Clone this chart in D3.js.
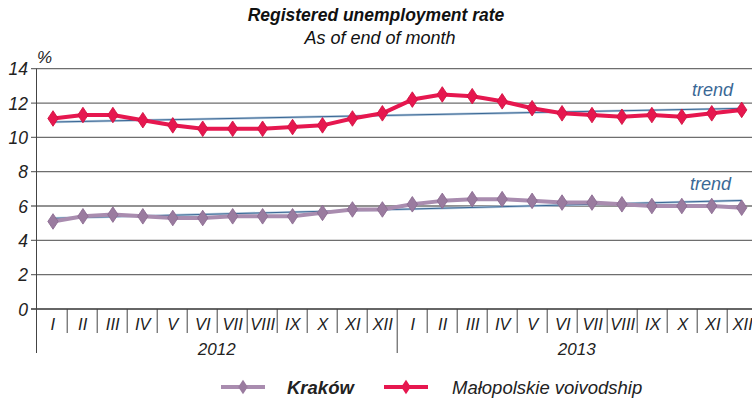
<!DOCTYPE html>
<html><head><meta charset="utf-8">
<script src="https://cdn.jsdelivr.net/npm/d3@7"></script>
<style>
html,body{margin:0;padding:0;background:#fff;}
svg text{font-family:"Liberation Sans",Arial,sans-serif;font-style:italic;}
</style></head>
<body>
<svg id="chart" width="752" height="401"></svg>
<script>
const months = ["I","II","III","IV","V","VI","VII","VIII","IX","X","XI","XII"];
const years = ["2012","2013"];
const yTicks = [0,2,4,6,8,10,12,14];
const krakow = [5.1,5.4,5.5,5.4,5.3,5.3,5.4,5.4,5.4,5.6,5.8,5.8,
                6.1,6.3,6.4,6.4,6.3,6.2,6.2,6.1,6.0,6.0,6.0,5.9];
const malopolska = [11.1,11.3,11.3,11.0,10.7,10.5,10.5,10.5,10.6,10.7,11.1,11.4,
                    12.2,12.5,12.4,12.1,11.7,11.4,11.3,11.2,11.3,11.2,11.4,11.6];
const seriesNames = ["Kraków","Małopolskie voivodship"];
const trendLabel = "trend";

const svg = d3.select("#chart");
const cats = [];
years.forEach(y => months.forEach(m => cats.push(y + "-" + m)));

const x = d3.scaleBand().domain(cats).range([36.7, 756.7]).padding(0);
const xp = d3.scalePoint().domain(cats).range([53, 741.7]);
const y = d3.scaleLinear().domain([0,14]).range([309, 68.7]);

const colMal = "#e6174f", colMalDark = "#d0103f";
const colKr = "#a98caf", colKrDark = "#9a7b9f";
const colTrend = "#3a6895";

// gridlines
svg.append("g").selectAll("line").data(yTicks).join("line")
  .attr("x1", 31).attr("x2", 752)
  .attr("y1", d => y(d)).attr("y2", d => y(d))
  .attr("stroke", d => d === 0 ? "#333" : "#6e6e6e").attr("stroke-width", 1.3);

// y axis line
svg.append("line").attr("x1", 36.5).attr("x2", 36.5).attr("y1", y(14)).attr("y2", 353)
  .attr("stroke", "#444").attr("stroke-width", 1);

// y tick labels
svg.append("g").selectAll("text").data(yTicks).join("text")
  .attr("x", 28).attr("y", d => y(d) + 6.5).attr("text-anchor", "end")
  .attr("font-size", 17.5).attr("fill", "#222").text(d => d);

svg.append("text").attr("x", 37).attr("y", 63).attr("font-size", 17).attr("fill", "#222").text("%");

// category separators
svg.append("g").selectAll("line").data(cats.slice(1)).join("line")
  .attr("x1", d => x(d) + 0.5).attr("x2", d => x(d) + 0.5)
  .attr("y1", y(0)).attr("y2", d => d.endsWith("-I") ? 353 : 333)
  .attr("stroke", "#444").attr("stroke-width", 1);

// month labels
svg.append("g").selectAll("text").data(cats).join("text")
  .attr("x", d => x(d) + x.bandwidth()/2 + 1).attr("y", 330)
  .attr("text-anchor", "middle").attr("font-size", 16.5).attr("fill", "#222")
  .text(d => d.split("-")[1]);

// year labels
svg.append("g").selectAll("text").data(years).join("text")
  .attr("x", yr => x(yr + "-I") + x.bandwidth()*6)
  .attr("y", 355).attr("text-anchor", "middle").attr("font-size", 17).attr("fill", "#222")
  .text(d => d);

// trend lines (least squares of each series)
function trend(vals){
  const n = vals.length, idx = d3.range(n);
  const mx = d3.mean(idx), my = d3.mean(vals);
  const b = d3.sum(idx, i => (i-mx)*(vals[i]-my)) / d3.sum(idx, i => (i-mx)*(i-mx));
  const a = my - b*mx;
  return [a, a + b*(n-1)];
}
[krakow, malopolska].forEach(vals => {
  const t = trend(vals);
  const pts = [[xp(cats[0]), y(t[0])], [xp(cats[cats.length-1]), y(t[1])]];
  svg.append("path").attr("d", d3.line()(pts)).attr("stroke", "#b4c8dc").attr("stroke-width", 2.4).attr("fill","none");
  svg.append("path").attr("d", d3.line()(pts)).attr("stroke", colTrend).attr("stroke-width", 1).attr("fill","none");
});

// series
const diamond = d3.symbol().type(d3.symbolDiamond).size(70);
function drawSeries(vals, col, mcol, stroke){
  const line = d3.line().x((d,i) => xp(cats[i])).y(d => y(d));
  svg.append("path").datum(vals).attr("d", line).attr("fill","none")
    .attr("stroke", col).attr("stroke-width", 4).attr("stroke-linejoin","round");
  svg.append("g").selectAll("path").data(vals).join("path")
    .attr("d", diamond)
    .attr("transform", (d,i) => `translate(${xp(cats[i])},${y(d)}) scale(1.15,1)`)
    .attr("fill", mcol).attr("stroke", stroke).attr("stroke-width", 0.8);
}
drawSeries(krakow, colKr, colKrDark, "#8a6a90");
drawSeries(malopolska, colMal, colMal, colMalDark);

// trend labels
svg.append("text").attr("x", 733).attr("y", 96).attr("text-anchor","end")
  .attr("font-size", 18).attr("fill", colTrend).text(trendLabel);
svg.append("text").attr("x", 731).attr("y", 190).attr("text-anchor","end")
  .attr("font-size", 18).attr("fill", colTrend).text(trendLabel);

// title
svg.append("text").attr("x", 376).attr("y", 21).attr("text-anchor","middle")
  .attr("font-size", 17.5).attr("font-weight","bold").attr("fill","#111")
  .text("Registered unemployment rate");
svg.append("text").attr("x", 380).attr("y", 43.5).attr("text-anchor","middle")
  .attr("font-size", 18).attr("fill","#111").text("As of end of month");

// legend
const leg = [
  {name: seriesNames[0], col: colKr, mcol: colKrDark, x1: 221, x2: 265, tx: 287, bold: true},
  {name: seriesNames[1], col: colMal, mcol: colMal, x1: 384, x2: 428, tx: 452, bold: false}
];
const lg = svg.append("g").selectAll("g").data(leg).join("g");
lg.append("line").attr("x1", d => d.x1).attr("x2", d => d.x2).attr("y1", 387).attr("y2", 387)
  .attr("stroke", d => d.col).attr("stroke-width", 4);
lg.append("path").attr("d", d3.symbol().type(d3.symbolDiamond).size(60))
  .attr("transform", d => `translate(${(d.x1+d.x2)/2},387) scale(1.15,1)`)
  .attr("fill", d => d.mcol);
lg.append("text").attr("x", d => d.tx).attr("y", 394).attr("font-size", 18.5)
  .attr("font-weight", d => d.bold ? "bold" : "normal").attr("fill", "#222").text(d => d.name);
</script>
</body></html>
